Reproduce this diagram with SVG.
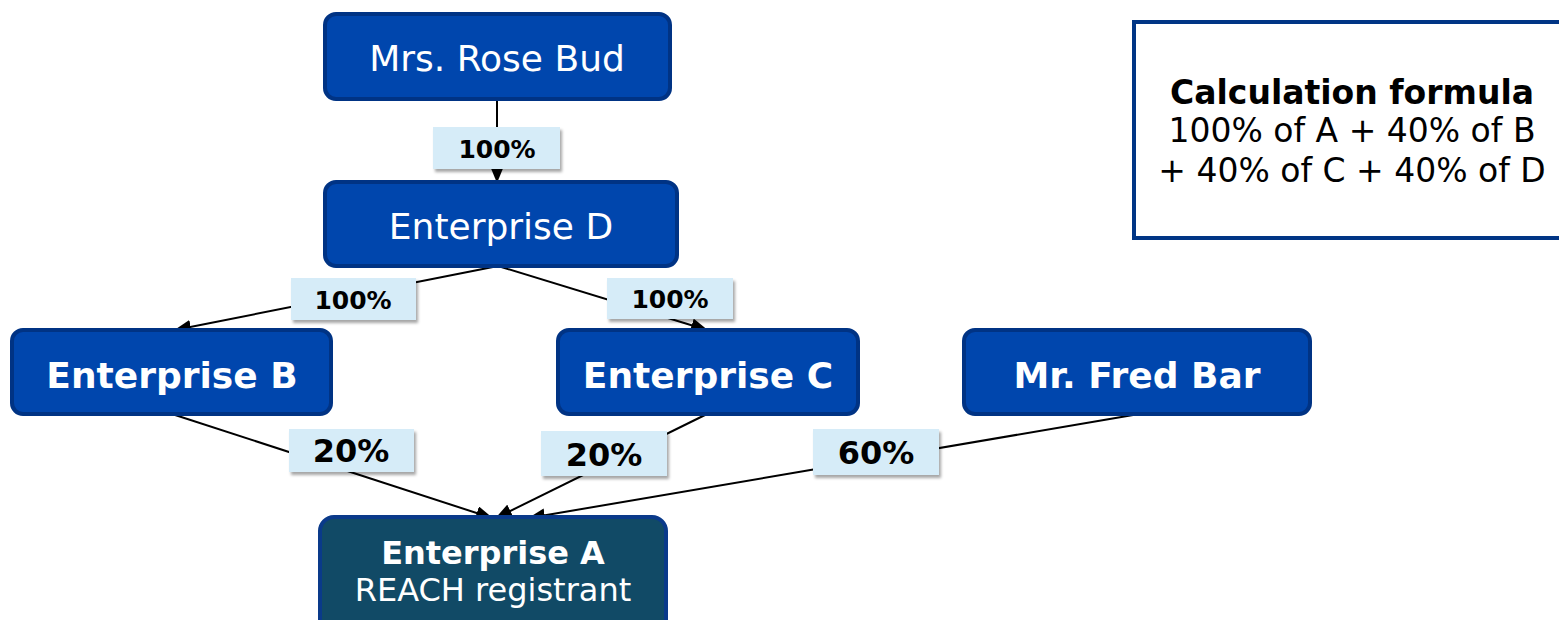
<svg xmlns="http://www.w3.org/2000/svg" width="1559" height="620" viewBox="0 0 1559 620">
<defs>
<marker id="arr" markerWidth="17" markerHeight="14" refX="16" refY="7" orient="auto" markerUnits="userSpaceOnUse">
<path d="M0,0 L17,7 L0,14 Z" fill="#000"/>
</marker>
<filter id="sh" x="-10%" y="-10%" width="130%" height="140%">
<feDropShadow dx="2" dy="3" stdDeviation="1.5" flood-color="#000" flood-opacity="0.35"/>
</filter>
<style>
.node{fill:#0046ad;stroke:#003384;stroke-width:4}
.nodeA{fill:#114a66;stroke:#0a3a8a;stroke-width:4}
.nt{font-family:"DejaVu Sans",Verdana,sans-serif;fill:#fff;text-anchor:middle}
.b{font-weight:bold}
.lbl{fill:#d6ecf8;filter:url(#sh)}
.lt{font-family:"DejaVu Sans",Verdana,sans-serif;font-weight:bold;fill:#000;text-anchor:middle}
.edge{stroke:#000;stroke-width:2;fill:none;marker-end:url(#arr)}
.ft{font-family:"DejaVu Sans",Verdana,sans-serif;fill:#000;text-anchor:middle;font-size:33px}
</style>
</defs>
<rect width="1559" height="620" fill="#fff"/>
<g id="connectors">
<line class="edge" x1="497" y1="99" x2="497" y2="182"/>
<line class="edge" x1="498" y1="266" x2="175" y2="330"/>
<line class="edge" x1="498" y1="266" x2="707" y2="330"/>
<line class="edge" x1="172" y1="414" x2="492" y2="518"/>
<line class="edge" x1="707" y1="414" x2="496" y2="518"/>
<line class="edge" x1="1139" y1="414" x2="529" y2="518"/>
</g>
<g id="labels">
<rect class="lbl" x="433" y="127" width="127" height="42"/>
<text class="lt" x="497" y="158" font-size="25">100%</text>
<rect class="lbl" x="291" y="278" width="125" height="42"/>
<text class="lt" x="353" y="309" font-size="25">100%</text>
<rect class="lbl" x="607" y="278" width="126" height="41"/>
<text class="lt" x="670" y="308" font-size="25">100%</text>
<rect class="lbl" x="289" y="429" width="125" height="43"/>
<text class="lt" x="351" y="462" font-size="32">20%</text>
<rect class="lbl" x="541" y="431" width="126" height="45"/>
<text class="lt" x="604" y="466" font-size="32">20%</text>
<rect class="lbl" x="813" y="429" width="126" height="46"/>
<text class="lt" x="876" y="464" font-size="32">60%</text>
</g>
<g id="rose">
<rect class="node" x="325" y="14" width="345" height="85" rx="11"/>
<text class="nt" x="497" y="71" font-size="36">Mrs. Rose Bud</text>
</g>
<g id="entD">
<rect class="node" x="325" y="182" width="352" height="84" rx="11"/>
<text class="nt" x="501" y="239" font-size="36">Enterprise D</text>
</g>
<g id="entB">
<rect class="node" x="12" y="330" width="319" height="84" rx="11"/>
<text class="nt b" x="172" y="388" font-size="36">Enterprise B</text>
</g>
<g id="entC">
<rect class="node" x="558" y="330" width="300" height="84" rx="11"/>
<text class="nt b" x="708" y="388" font-size="36">Enterprise C</text>
</g>
<g id="fred">
<rect class="node" x="964" y="330" width="346" height="84" rx="11"/>
<text class="nt b" x="1137" y="388" font-size="36">Mr. Fred Bar</text>
</g>
<g id="entA">
<rect class="nodeA" x="320" y="517" width="346" height="120" rx="14"/>
<text class="nt b" x="493" y="564" font-size="32">Enterprise A</text>
<text class="nt" x="493" y="601" font-size="32">REACH registrant</text>
</g>
<g id="formula">
<rect x="1134" y="22" width="440" height="216" fill="#fff" stroke="#003585" stroke-width="4"/>
<text class="ft b" x="1352" y="104" font-size="32">Calculation formula</text>
<text class="ft" x="1352" y="142">100% of A + 40% of B</text>
<text class="ft" x="1352" y="182">+ 40% of C + 40% of D</text>
</g>
</svg>
